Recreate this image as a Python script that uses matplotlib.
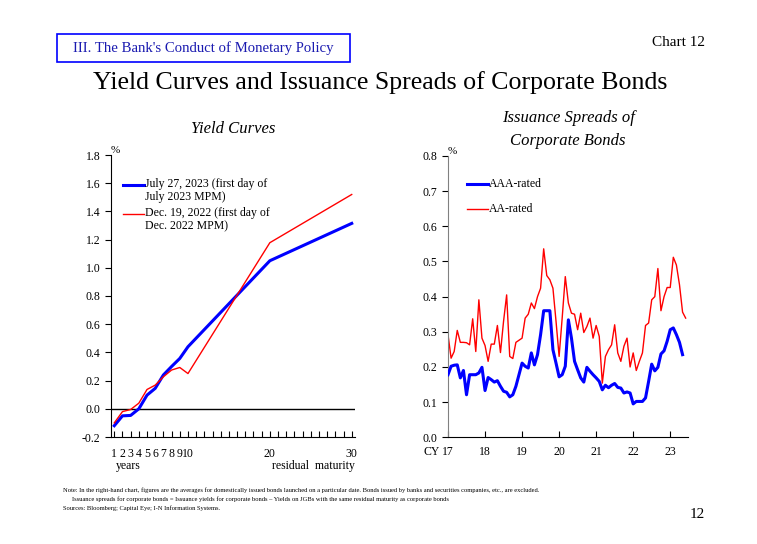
import matplotlib
matplotlib.use("Agg")
import matplotlib.pyplot as plt
from matplotlib.lines import Line2D
from matplotlib.patches import Rectangle
import numpy as np

plt.rcParams["font.family"] = ["Liberation Serif", "DejaVu Serif"]

# left chart: yield curves, by residual maturity (years)
maturity = [1, 2, 3, 4, 5, 6, 7, 8, 9, 10, 20, 30]
yield_jul23 = [-0.12, -0.05, -0.047, 0.0, 0.097, 0.145, 0.24, 0.30, 0.357, 0.44, 1.05, 1.315]
yield_dec22 = [-0.10, -0.02, -0.005, 0.04, 0.137, 0.168, 0.227, 0.275, 0.293, 0.25, 1.178, 1.52]
maturity_labels = ["1", "2", "3", "4", "5", "6", "7", "8", "9", "10", "20", "30"]

# right chart: monthly issuance spreads, from Jan 2017
start_year = 2017
aaa_rated = [0.178, 0.202, 0.205, 0.206, 0.169, 0.19, 0.121, 0.178, 0.178, 0.178,
             0.183, 0.199, 0.133, 0.17, 0.164, 0.157, 0.161, 0.145, 0.131, 0.128,
             0.115, 0.121, 0.145, 0.178, 0.211, 0.202, 0.197, 0.24, 0.206, 0.235,
             0.292, 0.36, 0.36, 0.36, 0.249, 0.211, 0.172, 0.178, 0.202, 0.334,
             0.282, 0.216, 0.192, 0.169, 0.157, 0.199, 0.188, 0.178, 0.169, 0.159,
             0.135, 0.148, 0.141, 0.148, 0.153, 0.142, 0.14, 0.126, 0.129, 0.126,
             0.095, 0.102, 0.102, 0.102, 0.112, 0.159, 0.208, 0.189, 0.199, 0.237,
             0.246, 0.273, 0.306, 0.311, 0.292, 0.27, 0.235]
aa_rated = [0.292, 0.225, 0.244, 0.304, 0.27, 0.27, 0.269, 0.263, 0.337, 0.244,
            0.391, 0.282, 0.261, 0.216, 0.265, 0.265, 0.318, 0.241, 0.33, 0.405,
            0.23, 0.224, 0.27, 0.276, 0.282, 0.339, 0.35, 0.382, 0.366, 0.40,
            0.424, 0.536, 0.46, 0.448, 0.424, 0.33, 0.23, 0.34, 0.457, 0.382,
            0.353, 0.35, 0.306, 0.353, 0.298, 0.315, 0.339, 0.282, 0.318, 0.287,
            0.154, 0.23, 0.249, 0.263, 0.32, 0.24, 0.216, 0.259, 0.282, 0.20,
            0.24, 0.19, 0.216, 0.24, 0.318, 0.325, 0.391, 0.40, 0.48, 0.36,
            0.40, 0.426, 0.426, 0.512, 0.49, 0.434, 0.356, 0.339]
year_labels = ["17", "18", "19", "20", "21", "22", "23"]

BLUE = "#0000ff"
RED = "#ff0000"

fig = plt.figure(figsize=(7.57, 5.44), dpi=100)

# header
fig.patches.append(Rectangle((57 / 757, 1 - 62 / 544), 293 / 757, 28 / 544,
                             transform=fig.transFigure, fill=False,
                             edgecolor=BLUE, lw=1.2))
fig.text(203 / 757, 1 - 48 / 544, "III. The Bank's Conduct of Monetary Policy",
         ha="center", va="center", fontsize=10.6, color="#1a1ab0")
fig.text(705 / 757, 1 - 43 / 544, "Chart 12", ha="right", va="center", fontsize=11)
fig.text(380 / 757, 1 - 83 / 544, "Yield Curves and Issuance Spreads of Corporate Bonds",
         ha="center", va="center", fontsize=18.6)

# ---------------- left: yield curves ----------------
ax1 = fig.add_axes([111 / 757, 1 - 437 / 544, 244 / 757, 282 / 544])
ax1.plot(maturity, yield_jul23, c=BLUE, lw=2.2, zorder=3)
ax1.plot(maturity, yield_dec22, c=RED, lw=1.0, zorder=4)
ax1.axhline(0, color="black", lw=1.0, zorder=2)
ax1.set_xlim(0.6, 30.4)
ax1.set_ylim(-0.2, 1.8)
ax1.set_yticks(np.arange(-0.2, 1.81, 0.2))
ax1.set_yticklabels(["{:.1f}".format(v) for v in np.arange(-0.2, 1.81, 0.2)])
ax1.set_xticks(range(1, 31))
ax1.set_xticklabels([s if s in maturity_labels else "" for s in map(str, range(1, 31))])
ax1.tick_params(axis="x", direction="in", length=4, pad=8, labelsize=8.5)
ax1.tick_params(axis="y", direction="out", length=4, labelsize=8.5)
for s in ["top", "right"]:
    ax1.spines[s].set_visible(False)
ax1.text(0.0, 1.0, "%", transform=ax1.transAxes, ha="left", va="bottom", fontsize=8)
ax1.text(0.02, -0.081, "years", transform=ax1.transAxes, ha="left", va="top", fontsize=8.5)
ax1.text(1.0, -0.081, "residual  maturity", transform=ax1.transAxes, ha="right", va="top", fontsize=8.5)
ax1.set_title("Yield Curves", fontsize=12, style="italic", pad=16)

# legend drawn by hand so the line sits on the first text row
ax1.add_line(Line2D([0.05, 0.135], [0.893, 0.893], transform=ax1.transAxes, c=BLUE, lw=2.2))
ax1.text(0.14, 0.918, "July 27, 2023 (first day of\nJuly 2023 MPM)", transform=ax1.transAxes,
         ha="left", va="top", fontsize=8.5, linespacing=1.15)
ax1.add_line(Line2D([0.05, 0.135], [0.79, 0.79], transform=ax1.transAxes, c=RED, lw=1.0))
ax1.text(0.14, 0.815, "Dec. 19, 2022 (first day of\nDec. 2022 MPM)", transform=ax1.transAxes,
         ha="left", va="top", fontsize=8.5, linespacing=1.15)

# ---------------- right: issuance spreads ----------------
ax2 = fig.add_axes([448 / 757, 1 - 437.3 / 544, 240 / 757, 281.3 / 544])
t_aaa = start_year + np.arange(len(aaa_rated)) / 12
t_aa = start_year + np.arange(len(aa_rated)) / 12
ax2.plot(t_aaa, aaa_rated, c=BLUE, lw=2.2, zorder=3)
ax2.plot(t_aa, aa_rated, c=RED, lw=1.0, zorder=2)
ax2.set_xlim(2017, 2023.48)
ax2.set_ylim(0, 0.8)
ax2.set_yticks(np.arange(0, 0.81, 0.1))
ax2.set_yticklabels(["{:.1f}".format(v) for v in np.arange(0, 0.81, 0.1)])
ax2.set_xticks(start_year + np.arange(len(year_labels)))
ax2.set_xticklabels(year_labels)
ax2.tick_params(axis="x", direction="in", length=4, pad=6, labelsize=8.5)
ax2.tick_params(axis="y", direction="out", length=4, labelsize=8.5)
for s in ["top", "right"]:
    ax2.spines[s].set_visible(False)
ax2.spines["left"].set_color("#808080")
ax2.text(0.0, 1.0, "%", transform=ax2.transAxes, ha="left", va="bottom", fontsize=8)
ax2.text(-0.035, -0.031, "CY", transform=ax2.transAxes, ha="right", va="top", fontsize=8.5)
ax2.set_title("Issuance Spreads of\nCorporate Bonds", fontsize=12, style="italic", pad=8,
              linespacing=1.55)

ax2.add_line(Line2D([0.08, 0.165], [0.9, 0.9], transform=ax2.transAxes, c=BLUE, lw=2.2))
ax2.text(0.17, 0.9, "AAA-rated", transform=ax2.transAxes, ha="left", va="center", fontsize=8.5)
ax2.add_line(Line2D([0.08, 0.165], [0.81, 0.81], transform=ax2.transAxes, c=RED, lw=1.0))
ax2.text(0.17, 0.81, "AA-rated", transform=ax2.transAxes, ha="left", va="center", fontsize=8.5)

# footnotes
fig.text(63 / 757, 1 - 490 / 544,
         "Note: In the right-hand chart, figures are the averages for domestically issued bonds launched on a particular date. "
         "Bonds issued by banks and securities companies, etc., are excluded.",
         ha="left", va="center", fontsize=4.7)
fig.text(72 / 757, 1 - 499 / 544,
         "Issuance spreads for corporate bonds = Issuance yields for corporate bonds \u2013 "
         "Yields on JGBs with the same residual maturity as corporate bonds",
         ha="left", va="center", fontsize=4.7)
fig.text(63 / 757, 1 - 508 / 544, "Sources: Bloomberg; Capital Eye; I-N Information Systems.",
         ha="left", va="center", fontsize=4.7)
fig.text(705 / 757, 1 - 514 / 544, "12", ha="right", va="center", fontsize=11)

fig.savefig("out.png", dpi=100)
